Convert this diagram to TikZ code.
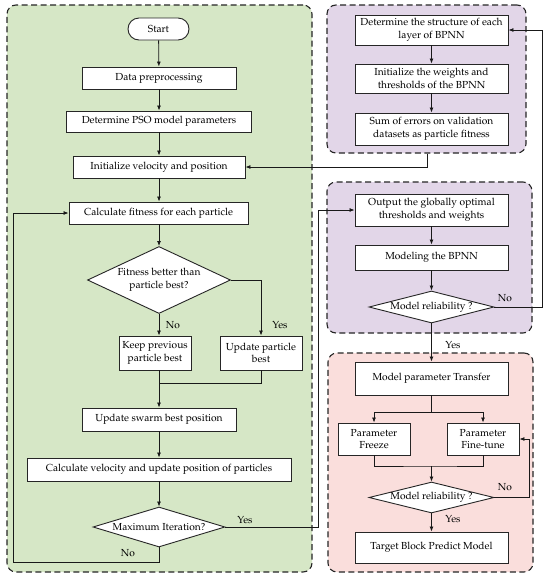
\documentclass[tikz,border=0pt]{standalone}
\usepackage[T1]{fontenc}
\usepackage{mathpazo}
\usetikzlibrary{arrows.meta,shapes.geometric}
\definecolor{pgreen}{RGB}{214,231,198}
\definecolor{ppurple}{RGB}{226,214,232}
\definecolor{ppink}{RGB}{250,222,220}
\tikzset{
  panel/.style={draw=black!85, line width=1.1pt, dash pattern=on 6pt off 3.5pt, rounded corners=9pt, inner sep=0pt},
  box/.style={draw=black!85, fill=white, line width=0.9pt, inner sep=0pt, align=center, font=\fontsize{10.2}{12.8}\selectfont},
  term/.style={box, rounded corners=11pt},
  dec/.style={draw=black!85, fill=white, line width=0.9pt, shape=diamond, inner sep=0pt, align=center, font=\fontsize{10.2}{12.8}\selectfont},
  conn/.style={line width=0.8pt, draw=black!90},
  arr/.style={conn, -{Latex[length=5pt,width=4pt]}},
  lbl/.style={font=\fontsize{10.2}{12}\selectfont, inner sep=0pt}
}
\begin{document}
\begin{tikzpicture}[x=1pt,y=-1pt]
\useasboundingbox (0,0) rectangle (550,579);
% panels
\node[panel, fill=pgreen, minimum width=305pt, minimum height=567pt] (PG) at (159.5,288.5) {};
\node[panel, fill=ppurple, minimum width=199pt, minimum height=148pt] (P1) at (426.5,79) {};
\node[panel, fill=ppurple, minimum width=205pt, minimum height=151pt] (P2) at (429.5,257.5) {};
\node[panel, fill=ppink, minimum width=205pt, minimum height=219pt] (P3) at (430.5,462.5) {};
% left flow
\node[term, minimum width=61pt, minimum height=22pt] (start) at (158.5,29) {Start};
\node[box, minimum width=154pt, minimum height=22pt] (data) at (159,78) {Data preprocessing};
\node[box, minimum width=185pt, minimum height=21pt] (pso) at (159,121.5) {Determine PSO model parameters};
\node[box, minimum width=172pt, minimum height=22pt] (init) at (159,167) {Initialize velocity and position};
\node[box, minimum width=179pt, minimum height=22pt] (calc) at (158.5,213) {Calculate fitness for each particle};
\node[dec, aspect=2, minimum width=143pt, minimum height=67pt] (d1) at (159,280) {Fitness better than\\particle best?};
\node[box, minimum width=72pt, minimum height=34pt] (keep) at (155,353) {Keep previous\\particle best};
\node[box, minimum width=82pt, minimum height=34pt] (upd) at (261,353) {Update particle\\best};
\node[box, minimum width=154pt, minimum height=23pt] (swarm) at (159,419.5) {Update swarm best position};
\node[box, minimum width=264pt, minimum height=23pt] (vel) at (159,469.5) {Calculate velocity and update position of particles};
\node[dec, aspect=3.3, minimum width=132pt, minimum height=40pt] (d2) at (159,527) {Maximum Iteration?};
% right top
\node[box, minimum width=153pt, minimum height=30pt] (s1) at (431.5,30) {Determine the structure of each\\layer of BPNN};
\node[box, minimum width=153pt, minimum height=29pt] (s2) at (431.5,78.5) {Initialize the weights and\\thresholds of the BPNN};
\node[box, minimum width=153pt, minimum height=32pt] (s3) at (431.5,129) {Sum of errors on validation\\datasets as particle fitness};
% right middle
\node[box, minimum width=153pt, minimum height=32pt] (out) at (431.5,210) {Output the globally optimal\\thresholds and weights};
\node[box, minimum width=153pt, minimum height=25pt] (model) at (431.5,257.5) {Modeling the BPNN};
\node[dec, aspect=4, minimum width=125pt, minimum height=32pt] (d3) at (431.5,307) {Model reliability ?};
% right bottom
\node[box, minimum width=153pt, minimum height=33pt] (trans) at (431.5,378.5) {Model parameter Transfer};
\node[box, minimum width=72pt, minimum height=32pt] (freeze) at (374,439) {Parameter\\Freeze};
\node[box, minimum width=72pt, minimum height=32pt] (fine) at (483,439) {Parameter\\Fine-tune};
\node[dec, aspect=4, minimum width=125pt, minimum height=31pt] (d4) at (431.5,497.5) {Model reliability ?};
\node[box, minimum width=153pt, minimum height=31pt] (target) at (431.5,547.5) {Target Block Predict Model};
% coordinates
\coordinate (m1) at (159,383);
\coordinate (lb) at (13,562);
\coordinate (yc) at (318,527);
\coordinate (c1) at (427,0);
\coordinate (rc) at (542,307);
\coordinate (sp) at (431.5,412);
\coordinate (mg) at (431.5,466);
\coordinate (rc2) at (529,497.5);
% left connectors
\draw[arr] (start) -- (data);
\draw[arr] (data) -- (pso);
\draw[arr] (pso) -- (init);
\draw[arr] (init) -- (calc.north -| init);
\draw[arr] (calc.south -| d1) -- (d1.north);
\draw[arr] (d1.east) -| (upd.north);
\draw[arr] (d1.south) -- (d1.south |- keep.north);
\draw[conn] (keep.south -| m1) -- (m1) -| (upd.south);
\draw[arr] (m1) -- (swarm.north -| m1);
\draw[arr] (swarm.south -| m1) -- (vel.north -| m1);
\draw[arr] (vel.south -| m1) -- (d2.north);
\draw[arr] (d2.south) |- (lb) |- (calc.west);
\draw[arr] (d2.east) -- (yc) |- (out.west);
\draw[arr] (c1 |- P1.south) |- (init.east);
% right connectors
\draw[arr] (s1) -- (s2);
\draw[arr] (s2) -- (s3);
\draw[arr] (out) -- (model);
\draw[arr] (model) -- (d3.north);
\draw[arr] (d3.east) -- (rc) |- (s1.east);
\draw[arr] (d3.south) -- (trans.north);
\draw[conn] (trans.south) -- (sp);
\draw[arr] (sp) -| (freeze.north);
\draw[arr] (sp) -| (fine.north);
\draw[conn] (freeze.south) |- (mg) -| (fine.south);
\draw[arr] (mg) -- (d4.north);
\draw[arr] (d4.east) -- (rc2) |- (fine.east);
\draw[arr] (d4.south) -- (target.north);
% labels
\node[lbl] (l1) at (173,325) {No};
\node[lbl] (l2) at (280,325) {Yes};
\node[lbl] (l3) at (128,553) {No};
\node[lbl] (l4) at (245,520) {Yes};
\node[lbl] (l5) at (505,298) {No};
\node[lbl] (l6) at (453,345) {Yes};
\node[lbl] (l7) at (505,487) {No};
\node[lbl] (l8) at (453,519) {Yes};
\end{tikzpicture}
\end{document}
